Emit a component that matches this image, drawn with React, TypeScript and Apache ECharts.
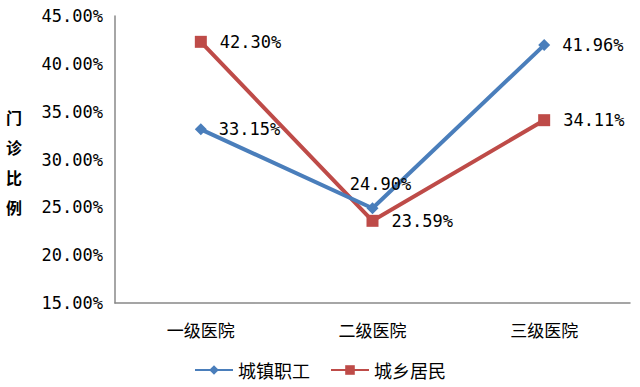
import React, { useEffect, useRef } from "react";
import * as echarts from "echarts";

const categories = ["一级医院", "二级医院", "三级医院"];
const seriesNames = ["城镇职工", "城乡居民"];
const urbanWorkers = [33.15, 24.9, 41.96];
const urbanRural = [42.3, 23.59, 34.11];
const yTicks = { min: 15, max: 45, interval: 5 };
const yTitle = "门诊比例";

const MONO = "'DejaVu Sans Mono', 'Liberation Mono', monospace";
const CJK = "'Noto Sans CJK SC', sans-serif";

export default function App() {
  const ref = useRef<HTMLDivElement>(null);
  useEffect(() => {
    if (!ref.current) return;
    const chart = echarts.init(ref.current, null, { renderer: "svg" });
    const fmt = (v: number) => v.toFixed(2) + "%";
    chart.setOption({
      animation: false,
      backgroundColor: "#ffffff",
      grid: { left: 115, top: 16, right: 10, bottom: 84 },
      xAxis: {
        type: "category",
        data: categories,
        boundaryGap: true,
        axisLine: { lineStyle: { color: "#888888", width: 1.5 } },
        axisTick: { show: false },
        axisLabel: { color: "#000", fontFamily: CJK, fontSize: 17, margin: 18 },
      },
      yAxis: {
        type: "value",
        min: yTicks.min,
        max: yTicks.max,
        interval: yTicks.interval,
        axisLine: { show: true, lineStyle: { color: "#888888", width: 1.5 } },
        axisTick: { show: false },
        splitLine: { show: false },
        axisLabel: {
          color: "#000",
          fontFamily: MONO,
          fontSize: 17,
          margin: 12,
          formatter: (v: number) => fmt(v),
        },
      },
      legend: {
        bottom: 3,
        left: "center",
        itemWidth: 38,
        itemHeight: 12,
        itemGap: 20,
        textStyle: { color: "#000", fontFamily: CJK, fontSize: 18 },
        data: seriesNames,
      },
      graphic: yTitle.split("").map((ch, i) => ({
        type: "text",
        left: 6,
        top: 109 + i * 30,
        style: {
          text: ch,
          font: `bold 16px ${CJK}`,
          fill: "#000",
        },
      })),
      series: [
        {
          name: seriesNames[0],
          type: "line",
          data: urbanWorkers.map((v, i) =>
            i === 1
              ? { value: v, label: { position: "top", offset: [8, 2] } }
              : v
          ),
          symbol: "diamond",
          symbolSize: 12,
          lineStyle: { color: "#4A7EBB", width: 4 },
          itemStyle: { color: "#4A7EBB" },
          label: {
            show: true,
            position: "right",
            distance: 12,
            color: "#000",
            fontFamily: MONO,
            fontSize: 17,
            formatter: (p: any) => fmt(p.value),
          },
          z: 3,
        },
        {
          name: seriesNames[1],
          type: "line",
          data: urbanRural,
          symbol: "rect",
          symbolSize: 12,
          lineStyle: { color: "#BE4B48", width: 4 },
          itemStyle: { color: "#BE4B48" },
          label: {
            show: true,
            position: "right",
            distance: 13,
            color: "#000",
            fontFamily: MONO,
            fontSize: 17,
            formatter: (p: any) => fmt(p.value),
          },
          z: 2,
        },
      ],
    });
    return () => chart.dispose();
  }, []);
  return (
    <div
      ref={ref}
      style={{ position: "absolute", left: 0, top: 0, width: 640, height: 387 }}
    />
  );
}
